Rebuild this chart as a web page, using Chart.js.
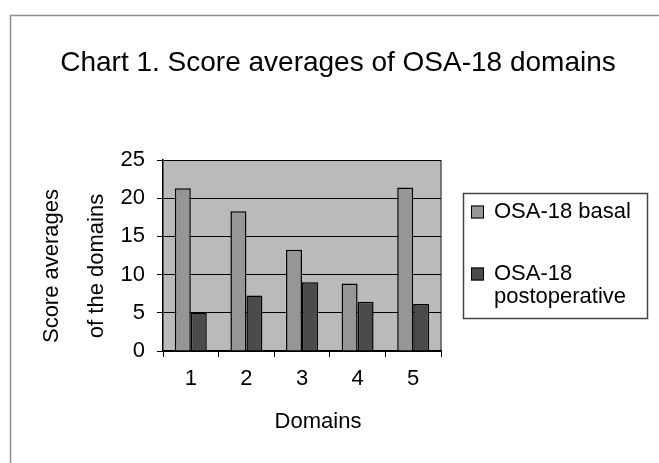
<!DOCTYPE html>
<html>
<head>
<meta charset="utf-8">
<script src="https://cdn.jsdelivr.net/npm/chart.js@4"></script>
<style>
  html, body { margin: 0; padding: 0; background: #fff; }
</style>
</head>
<body>
<canvas id="chart" width="659" height="463"></canvas>
<script>
const titleText = "Chart 1. Score averages of OSA-18 domains"
const domains = ["1", "2", "3", "4", "5"]
const basal = [21.3, 18.3, 13.25, 8.85, 21.4]
const postoperative = [5.05, 7.25, 9.0, 6.45, 6.15]
const seriesLabels = [["OSA-18 basal"], ["OSA-18", "postoperative"]]
const yMax = 25
const yStep = 5
const yTitle = ["Score averages", "of the domains"]
const xTitle = "Domains"

const FONT = "'Liberation Sans', Arial, sans-serif"
Chart.defaults.font.family = FONT
Chart.defaults.color = "#000"

// frame, plot background, titles and the boxed legend
const decor = {
  id: "decor",
  beforeDraw(chart) {
    const { ctx, chartArea: a } = chart
    ctx.save()
    ctx.fillStyle = "#fff"
    ctx.fillRect(0, 0, chart.width, chart.height)
    ctx.strokeStyle = "#8c8c8c"
    ctx.lineWidth = 1.5
    ctx.beginPath()
    ctx.moveTo(10.5, chart.height)
    ctx.lineTo(10.5, 15.5)
    ctx.lineTo(chart.width, 15.5)
    ctx.stroke()
    ctx.fillStyle = "#bababa"
    ctx.fillRect(a.left, a.top, a.width, a.height)
    ctx.strokeStyle = "#555"
    ctx.lineWidth = 1.5
    ctx.beginPath()
    ctx.moveTo(a.right, a.top)
    ctx.lineTo(a.right, a.bottom)
    ctx.stroke()
    ctx.restore()
  },
  afterDraw(chart) {
    const { ctx } = chart
    ctx.save()
    ctx.fillStyle = "#000"
    ctx.textBaseline = "middle"

    ctx.textAlign = "center"
    ctx.font = "28px " + FONT
    ctx.fillText(titleText, 338, 63)

    ctx.font = "22px " + FONT
    ctx.fillText(xTitle, 318, 422)

    yTitle.forEach((line, i) => {
      ctx.save()
      ctx.translate(52 + i * 45, 266)
      ctx.rotate(-Math.PI / 2)
      ctx.fillText(line, 0, 0)
      ctx.restore()
    })

    // legend
    ctx.strokeStyle = "#444"
    ctx.lineWidth = 1.5
    ctx.strokeRect(463.5, 193.5, 184, 125)
    const rows = [[212], [274, 297]]
    ctx.textAlign = "left"
    ctx.font = "22px " + FONT
    chart.data.datasets.forEach((ds, i) => {
      const ys = rows[i]
      ctx.fillStyle = ds.backgroundColor
      ctx.fillRect(471, ys[0] - 6.5, 13, 13)
      ctx.strokeStyle = "#000"
      ctx.lineWidth = 1
      ctx.strokeRect(471.5, ys[0] - 6, 12, 12)
      ctx.fillStyle = "#000"
      seriesLabels[i].forEach((t, j) => ctx.fillText(t, 494, ys[j]))
    })
    ctx.restore()
  }
}

new Chart(document.getElementById("chart"), {
  type: "bar",
  data: {
    labels: domains,
    datasets: [
      {
        label: seriesLabels[0].join(" "),
        data: basal,
        backgroundColor: "#969696",
        borderColor: "#000",
        borderWidth: 1.5,
        categoryPercentage: 0.575,
        barPercentage: 1
      },
      {
        label: seriesLabels[1].join(" "),
        data: postoperative,
        backgroundColor: "#4b4b4b",
        borderColor: "#000",
        borderWidth: 1.5,
        categoryPercentage: 0.575,
        barPercentage: 1
      }
    ]
  },
  options: {
    responsive: false,
    animation: false,
    devicePixelRatio: 1,
    layout: { padding: { top: 160, right: 218, bottom: 0, left: 0 } },
    plugins: {
      legend: { display: false },
      title: { display: false },
      tooltip: { enabled: false }
    },
    scales: {
      x: {
        grid: { drawOnChartArea: false, color: "#000", tickLength: 6, offset: true },
        border: { color: "#000", width: 1.5 },
        ticks: { font: { size: 22 }, padding: 9 },
        afterFit: scale => { scale.height = 112 }
      },
      y: {
        min: 0,
        max: yMax,
        ticks: { stepSize: yStep, font: { size: 22 }, padding: 12 },
        grid: { color: "#000", lineWidth: 1, tickLength: 6 },
        border: { color: "#000", width: 1.5 },
        afterFit: scale => { scale.height; scale.width = 163 }
      }
    }
  },
  plugins: [decor]
})
</script>
</body>
</html>
